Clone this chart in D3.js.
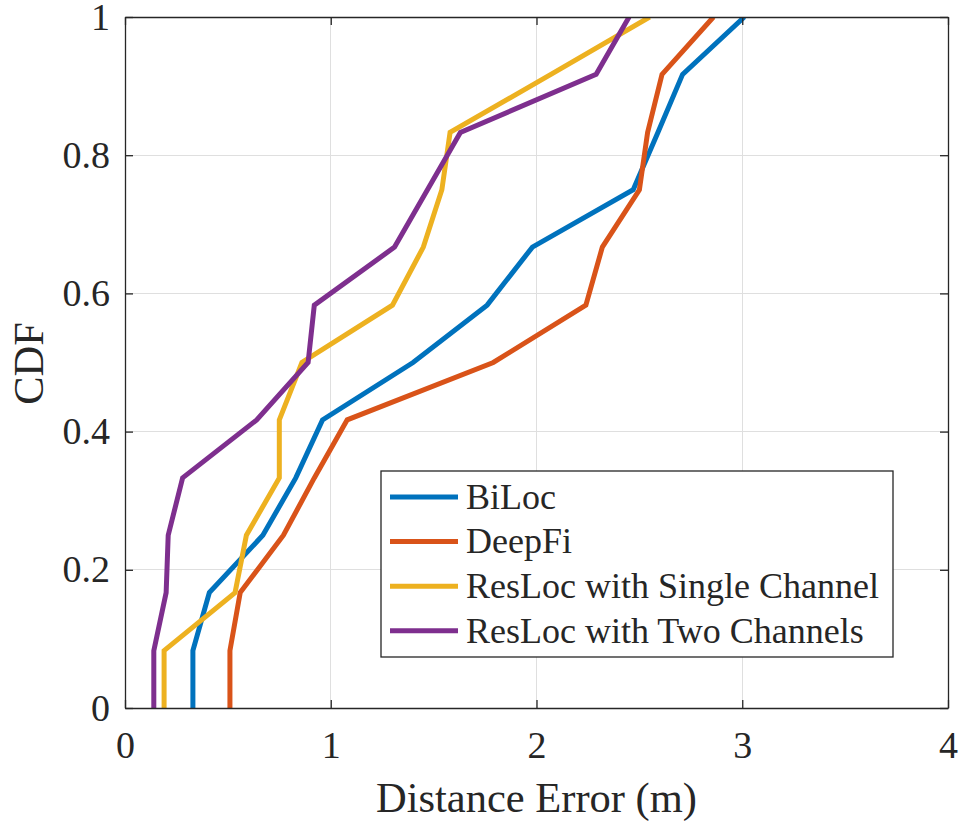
<!DOCTYPE html>
<html>
<head>
<meta charset="utf-8">
<title>CDF of Distance Error</title>
<style>
body { margin: 0; background: #fff; }
svg text { font-family: "Liberation Serif", "Times New Roman", serif; fill: #262626; }
.grid line { stroke: #dfdfdf; stroke-width: 1; shape-rendering: crispEdges; }
.series { fill: none; stroke-width: 5; stroke-linejoin: miter; }
</style>
</head>
<body>
<script src="https://d3js.org/d3.v7.min.js"></script>
<script>

// CDF levels shared by every curve
const cdfLevels = [0, 0.083, 0.167, 0.25, 0.333, 0.417, 0.5, 0.583, 0.667, 0.75, 0.833, 0.917, 1];

// distance error (m) at each CDF level
const biloc   = [0.33, 0.33, 0.41, 0.67, 0.83, 0.96, 1.40, 1.76, 1.98, 2.47, 2.59, 2.71, 3.01];
const deepfi  = [0.51, 0.51, 0.56, 0.77, 0.92, 1.08, 1.79, 2.24, 2.32, 2.50, 2.54, 2.61, 2.86];
const single  = [0.19, 0.19, 0.535, 0.59, 0.75, 0.75, 0.86, 1.30, 1.45, 1.54, 1.58, 2.07, 2.55];
const twoChan = [0.14, 0.14, 0.20, 0.21, 0.28, 0.64, 0.89, 0.92, 1.31, 1.47, 1.63, 2.29, 2.45];

const seriesNames = ["BiLoc", "DeepFi", "ResLoc with Single Channel", "ResLoc with Two Channels"];
const seriesColors = ["#0072BD", "#D95319", "#EDB120", "#7E2F8E"];
const seriesValues = [biloc, deepfi, single, twoChan];

const xTicks = [0, 1, 2, 3, 4];
const yTicks = [0, 0.2, 0.4, 0.6, 0.8, 1];

const width = 960, height = 821;
const margin = {top: 17, right: 12, bottom: 113, left: 125};
const w = width - margin.left - margin.right;
const h = height - margin.top - margin.bottom;

const svg = d3.select("body").append("svg")
    .attr("width", width)
    .attr("height", height);

const g = svg.append("g")
    .attr("transform", "translate(" + margin.left + "," + margin.top + ")");

const x = d3.scaleLinear().domain([0, 4]).range([0, w]);
const y = d3.scaleLinear().domain([0, 1]).range([h, 0]);

// grid
g.append("g").attr("class", "grid")
  .selectAll("line").data(xTicks.slice(1, -1)).enter().append("line")
    .attr("x1", d => x(d)).attr("x2", d => x(d))
    .attr("y1", 0).attr("y2", h);
g.append("g").attr("class", "grid")
  .selectAll("line").data(yTicks.slice(1, -1)).enter().append("line")
    .attr("y1", d => y(d)).attr("y2", d => y(d))
    .attr("x1", 0).attr("x2", w);

// clip the curves to the plot box
svg.append("defs").append("clipPath").attr("id", "plotclip")
  .append("rect").attr("width", w).attr("height", h);

const line = d3.line()
    .x(d => x(d[0]))
    .y(d => y(d[1]));

g.append("g").attr("clip-path", "url(#plotclip)")
  .selectAll("path").data(seriesValues).enter().append("path")
    .attr("class", "series")
    .attr("stroke", (d, i) => seriesColors[i])
    .attr("d", d => line(d.map((v, i) => [v, cdfLevels[i]])));

// axes (ticks point inward, box on)
const tickLen = 8;
const axisColor = "#262626";

function styleAxis(sel) {
  sel.select(".domain").attr("stroke", axisColor).attr("stroke-width", 1.3);
  sel.selectAll(".tick line").attr("stroke", axisColor).attr("stroke-width", 1.3);
  sel.selectAll(".tick text").attr("fill", axisColor);
}

g.append("g")
    .attr("transform", "translate(0," + h + ")")
    .call(d3.axisBottom(x).tickValues(xTicks).tickSize(-tickLen).tickSizeOuter(0)
      .tickFormat(d3.format("d")).tickPadding(0))
    .call(styleAxis)
    .call(a => a.selectAll(".tick text")
      .attr("y", 50).attr("dy", 0)
      .style("font-size", "38px"));

g.append("g")
    .call(d3.axisTop(x).tickValues(xTicks).tickSize(-tickLen).tickSizeOuter(0).tickFormat(""))
    .call(styleAxis);

g.append("g")
    .call(d3.axisLeft(y).tickValues(yTicks).tickSize(-tickLen).tickSizeOuter(0)
      .tickFormat(d => d === 0 || d === 1 ? d3.format("d")(d) : d3.format(".1f")(d)))
    .call(styleAxis)
    .call(a => a.selectAll(".tick text")
      .attr("x", -15).attr("dy", "0.32em")
      .style("font-size", "38px"));

g.append("g")
    .attr("transform", "translate(" + w + ",0)")
    .call(d3.axisRight(y).tickValues(yTicks).tickSize(-tickLen).tickSizeOuter(0).tickFormat(""))
    .call(styleAxis);

// axis labels
svg.append("text")
    .attr("x", margin.left + w / 2)
    .attr("y", 812)
    .attr("text-anchor", "middle")
    .style("font-size", "42.5px")
    .text("Distance Error (m)");

svg.append("text")
    .attr("transform", "translate(43," + (margin.top + h / 2 + 1) + ") rotate(-90)")
    .attr("text-anchor", "middle")
    .style("font-size", "42.5px")
    .text("CDF");

// legend
const legend = svg.append("g").attr("transform", "translate(381,471)");
legend.append("rect")
    .attr("width", 512).attr("height", 186)
    .attr("fill", "#fff").attr("stroke", axisColor).attr("stroke-width", 1.3);

const rows = legend.selectAll(".row").data(seriesNames).enter().append("g")
    .attr("transform", (d, i) => "translate(0," + (26 + i * 44.6) + ")");
rows.append("line")
    .attr("x1", 9).attr("x2", 77)
    .attr("stroke", (d, i) => seriesColors[i])
    .attr("stroke-width", 5);
rows.append("text")
    .attr("x", 85).attr("dy", "0.33em")
    .style("font-size", "36px")
    .text(d => d);

</script>
</body>
</html>
